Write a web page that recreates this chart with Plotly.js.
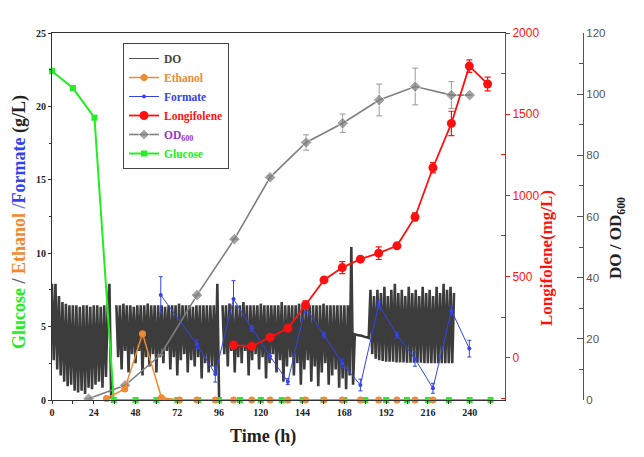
<!DOCTYPE html>
<html>
<head>
<meta charset="utf-8">
<script src="https://cdn.plot.ly/plotly-3.0.1.min.js"></script>
<style>html,body{margin:0;padding:0;background:#fff;}#chart{width:644px;height:457px;}</style>
</head>
<body>
<div id="chart"></div>
<script>
// ---- Data ----
// Glucose (g/L)
const glucoseTime = [0, 12, 24.4, 35.5, 48, 60, 72, 84, 96, 108, 120, 132, 144, 156, 168, 180, 192, 204, 216, 228, 240, 252];
const glucoseVal  = [22.4, 21.25, 19.23, 0, 0, 0, 0, 0, 0, 0, 0, 0, 0, 0, 0, 0, 0, 0, 0, 0, 0, 0];
// Ethanol (g/L)
const ethanolTime = [31.3, 41.8, 52.0, 62.9, 73.3, 83.3, 93.8, 104.3, 114.8, 125.3, 135.5, 145.7, 156.3, 166.8, 177.2, 187.7, 198.2, 208.6, 218.9];
const ethanolVal  = [0.1, 0.75, 4.52, 0.15, 0, 0, 0, 0, 0, 0, 0, 0, 0, 0, 0, 0, 0, 0, 0];
// Formate (g/L)
const formateTime = [62.5, 83.3, 93.8, 104.3, 114.8, 125.3, 135.5, 145.7, 156.3, 166.8, 177.2, 187.7, 198.2, 208.6, 218.9, 229.5, 239.8];
const formateVal  = [7.15, 3.8, 1.77, 6.88, 4.88, 2.98, 1.25, 6.3, 4.43, 2.5, 1.02, 6.5, 4.43, 2.8, 0.8, 6.1, 3.5];
const formateErr  = [1.25, 0.3, 0.55, 1.25, 0.2, 0.2, 0.2, 0.3, 0.2, 0.3, 0.4, 0.3, 0.2, 0.5, 0.34, 0.3, 0.57];
// Longifolene (mg/L)
const longiTime = [104.3, 114.8, 125.3, 135.5, 145.7, 156.3, 166.8, 177.2, 187.7, 198.2, 208.6, 218.9, 229.5, 239.8, 250.3];
const longiVal  = [78, 70, 126, 181, 325, 479, 555, 607, 644, 689, 867, 1170, 1443, 1796, 1686];
const longiErr  = [15, 10, 10, 10, 25, 15, 37, 15, 39, 12, 25, 31, 75, 38, 42];
// OD600
const odTime = [21, 42, 62.3, 83.3, 104.8, 125.3, 146, 167, 188, 208.7, 229.5, 240];
const odVal  = [0.4, 4.8, 14.7, 34.3, 52.6, 72.8, 84.2, 90.5, 98.1, 102.5, 99.7, 99.7];
const odErr  = [0, 0, 0, 0, 0, 0.5, 2.5, 3, 5.2, 6, 4.4, 0];
// DO (%), one reading per hour starting at 0 h (null = no signal)
const doStart = 0, doStep = 1;
const doVal = [
  38, 13, 38, 10, 34, 8, 32, 6, 31.5, 4.5,
  31, 5, 31, 3, 31, 2.5, 30.5, 3, 31, 2,
  31, 4, 30.5, 3.5, 31, 5, 31, 6, 30.5, 4,
  31, 7.5, 31, 38, 0.5, null, null, 31, 14, 31,
  10, 31.5, 16, 31, 9, 31, 15, 30.5, 12, 31,
  16, 31, 8, 31, 14, 31.5, 11, 31, 15, 31,
  9, 31, 14, 31, 12, 30.5, 16, 31, 10, 31,
  14, 31, 8, 31.5, 13, 31, 15, 31, 9, 31,
  13, 30.5, 11, 31, 14, 31, 7, 31, 12, 31,
  9, 31, 11, 31, 8, 38, 1, null, 31, 15,
  31, 11, 31.5, 16, 31, 9, 31, 14, 31, 12,
  32, 16, 31, 8, 31, 13, 31, 15, 31, 10,
  31.5, 14, 31, 7, 31, 12, 31, 15, 31, 9,
  31, 13, 32, 6, 31, 11, 31, 14, 31, 8,
  31, 12, 31.5, 5, 31, 10, 31, 13, 31, 6,
  31, 11, 31, 4.5, 31, 9, 31.5, 12, 31, 5,
  31, 8, 31, 10, 31, 4, 31, 7, 31, 3.5,
  31, 8, 50, 5, 21.5, 21.3, 21.2, 21.1, 21, 20.8,
  20.6, 20.5, 20.3, 36, 15, 34, 13.5, 36, 13, 35,
  12.8, 37, 12.5, 34, 12.5, 36, 12.5, 38, 12.3, 35,
  12.3, 36, 12.3, 34, 12.2, 37, 12.2, 35, 12.2, 36,
  12.2, 34, 12.2, 37, 12, 35, 12, 36, 12, 34,
  12, 37, 12, 35, 12, 38, 12, 36, 12, 37,
  12, 35
];
const xTicks = [0, 24, 48, 72, 96, 120, 144, 168, 192, 216, 240];

// ---- Colours ----
const cDO = '#3c3c3c', cOD = '#7f7f7f', cEth = '#f08a30', cFor = '#3344ee',
      cLon = '#ff1010', cGlu = '#22ee22';

const serif = 'Liberation Serif, Times New Roman, serif';
const sans = 'Liberation Sans, Arial, sans-serif';

const traces = [
  // DO signal (legend entry drawn by the thin-line key below)
  {name: 'DO', x0: doStart, dx: doStep, y: doVal, yaxis: 'y', xaxis: 'x',
   type: 'scatter', mode: 'lines', line: {color: cDO, width: 2.6, simplify: false},
   connectgaps: false, showlegend: false},
  {name: '<span style="color:#444">DO</span>', x: [null], y: [null], yaxis: 'y', xaxis: 'x',
   type: 'scatter', mode: 'lines', line: {color: '#555', width: 1}, legendrank: 1},
  {name: '<span style="color:#9933cc">OD<sub>600</sub></span>', x: odTime, y: odVal, yaxis: 'y', xaxis: 'x',
   type: 'scatter', mode: 'lines+markers', line: {color: cOD, width: 1.6},
   marker: {symbol: 'diamond', size: [9, 9, 0, 9, 9, 9, 9, 9, 9, 9, 9, 9], color: cOD},
   error_y: {type: 'data', array: odErr, visible: true, color: '#999', thickness: 1, width: 3}, legendrank: 5},
  {name: '<span style="color:' + cGlu + '">Glucose</span>', x: glucoseTime, y: glucoseVal, yaxis: 'y2', xaxis: 'x',
   type: 'scatter', mode: 'lines+markers', line: {color: cGlu, width: 2},
   marker: {symbol: 'square', size: 6, color: cGlu}, cliponaxis: false, legendrank: 6},
  {name: '<span style="color:' + cEth + '">Ethanol</span>', x: ethanolTime, y: ethanolVal, yaxis: 'y2', xaxis: 'x',
   type: 'scatter', mode: 'lines+markers', line: {color: cEth, width: 1.5},
   marker: {symbol: 'circle', size: 7, color: cEth}, cliponaxis: false, legendrank: 2},
  {name: '<span style="color:' + cFor + '">Formate</span>', x: formateTime, y: formateVal, yaxis: 'y2', xaxis: 'x',
   type: 'scatter', mode: 'lines+markers', line: {color: cFor, width: 1},
   marker: {symbol: 'circle', size: 4, color: cFor},
   error_y: {type: 'data', array: formateErr, visible: true, color: cFor, thickness: 1, width: 2}, legendrank: 3},
  {name: '<span style="color:' + cLon + '">Longifolene</span>', x: longiTime, y: longiVal, yaxis: 'y3', xaxis: 'x',
   type: 'scatter', mode: 'lines+markers', line: {color: cLon, width: 1.8},
   marker: {symbol: 'circle', size: 9, color: cLon},
   error_y: {type: 'data', array: longiErr, visible: true, color: cLon, thickness: 1.2, width: 3}, legendrank: 4}
];

const L = 52, R = 61, T = 33, B = 57, W = 644, H = 457;
const pw = W - L - R, ph = H - T - B;
const px = v => (v - L) / pw;       // pixel -> paper x
const py = v => (H - B - v) / ph;   // pixel -> paper y

const layout = {
  width: W, height: H,
  margin: {l: L, r: R, t: T, b: B, pad: 0},
  paper_bgcolor: '#fff', plot_bgcolor: 'rgba(0,0,0,0)',
  showlegend: true,
  legend: {x: px(123), y: py(43), xanchor: 'left', yanchor: 'top',
           bgcolor: 'rgba(255,255,255,0)', bordercolor: '#444', borderwidth: 1,
           font: {family: serif, size: 11.5, color: '#444', weight: 'bold'},
           itemwidth: 30, tracegroupgap: 0},
  xaxis: {domain: [0, px(505)], anchor: 'y', range: [0, 260.3],
          tickvals: xTicks, ticks: 'outside', ticklen: 3, tickcolor: '#333',
          minor: {dtick: 12, tick0: 0, ticks: 'outside', ticklen: 3, tickcolor: '#333'},
          showline: true, linecolor: '#333', linewidth: 1, mirror: true,
          showgrid: false, zeroline: false,
          tickfont: {family: serif, size: 10, color: '#222', weight: 'bold'}},
  yaxis: {anchor: 'free', position: 1, side: 'right', range: [0, 120],
          dtick: 20, ticks: 'inside', ticklen: 6, tickcolor: '#555',
          minor: {dtick: 10, ticks: 'inside', ticklen: 4, tickcolor: '#555'},
          showline: true, linecolor: '#555', linewidth: 1,
          showgrid: false, zeroline: false,
          tickfont: {family: sans, size: 11.5, color: '#555'}},
  yaxis2: {overlaying: 'y', anchor: 'x', side: 'left', range: [0, 25],
           dtick: 5, ticks: 'outside', ticklen: 3, tickcolor: '#333',
           minor: {dtick: 2.5, ticks: 'outside', ticklen: 2, tickcolor: '#333'},
           showline: true, linecolor: '#333', linewidth: 1,
           showgrid: false, zeroline: false,
           tickfont: {family: serif, size: 10, color: '#222', weight: 'bold'}},
  yaxis3: {overlaying: 'y', anchor: 'x', side: 'right', range: [-260.5, 2000],
           tickvals: [0, 500, 1000, 1500, 2000], ticks: 'outside', ticklen: 4, tickcolor: cLon,
           minor: {tickvals: [-250, 250, 750, 1250, 1750], ticks: 'inside', ticklen: 4, tickcolor: cLon},
           showline: true, linecolor: cLon, linewidth: 1,
           showgrid: false, zeroline: false,
           tickfont: {family: sans, size: 12, color: cLon}},
  annotations: [
    {xref: 'paper', yref: 'paper', x: px(20), y: py(222), textangle: -90, showarrow: false,
     xanchor: 'center', yanchor: 'middle',
     text: '<span style="color:' + cGlu + '">Glucose</span><span style="color:#666"> / </span><span style="color:' + cEth + '">Ethanol</span><span style="color:#6b7bd8"> /</span><span style="color:' + cFor + '">Formate</span><span style="color:#222"> (g/L)</span>',
     font: {family: serif, size: 18, weight: 'bold'}},
    {xref: 'paper', yref: 'paper', x: px(546), y: py(258), textangle: -90, showarrow: false,
     xanchor: 'center', yanchor: 'middle', text: 'Longifolene(mg/L)',
     font: {family: serif, size: 17, color: cLon, weight: 'bold'}},
    {xref: 'paper', yref: 'paper', x: px(617), y: py(238), textangle: -90, showarrow: false,
     xanchor: 'center', yanchor: 'middle', text: 'DO / OD<sub>600</sub>',
     font: {family: serif, size: 17, color: '#222', weight: 'bold'}},
    {xref: 'paper', yref: 'paper', x: px(262.5), y: py(436), showarrow: false,
     xanchor: 'center', yanchor: 'middle', text: 'Time (h)',
     font: {family: serif, size: 18, color: '#222', weight: 'bold'}}
  ]
};

Plotly.newPlot('chart', traces, layout, {displayModeBar: false, staticPlot: true});
</script>
</body>
</html>
